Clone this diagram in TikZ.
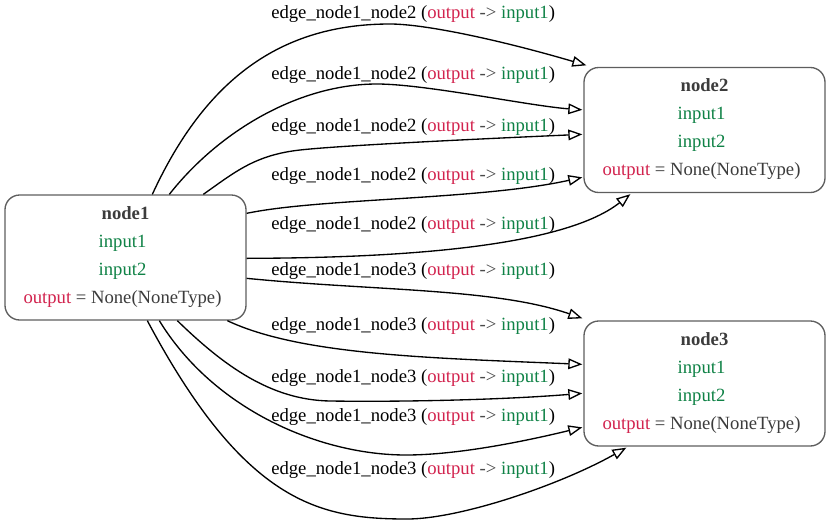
\documentclass[tikz,border=0pt]{standalone}
\usepackage{fontspec}
\setmainfont{Liberation Serif}
\usetikzlibrary{calc,arrows.meta}

\definecolor{boxgray}{HTML}{5E5E5E}
\definecolor{txtgray}{HTML}{3C3C3C}
\definecolor{portgreen}{HTML}{0F8246}
\definecolor{outred}{HTML}{D2234E}
\definecolor{arrgray}{HTML}{4A4A4A}

% body text size used throughout
\newcommand{\bodysize}{\fontsize{14}{16}\selectfont}
% label text of a connector from node1
\newcommand{\edgelab}[1]{edge\_node1\_#1 (\textcolor{outred}{output} \textcolor{arrgray}{->} \textcolor{portgreen}{input1})}

\tikzset{
  box/.style={draw=boxgray, line width=1pt, rounded corners=11pt, fill=white,
    minimum width=180.75pt, minimum height=93.75pt, inner sep=0pt},
  title/.style={anchor=base, font=\bodysize\bfseries, text=txtgray, inner sep=0pt},
  port/.style={anchor=base, font=\bodysize, text=portgreen, inner sep=0pt},
  outrow/.style={anchor=base, font=\bodysize, text=txtgray, inner sep=0pt},
  elabel/.style={anchor=base west, font=\bodysize, inner sep=0pt},
  link/.style={draw=black, line width=1pt, -{Triangle[open, length=10.5pt, width=8pt]}},
}

\begin{document}
\begin{tikzpicture}[x=0.75pt, y=-0.75pt]
\useasboundingbox (0,0) rectangle (831,525);

% boxes
\node[box] (n1) at (125.5,257.5) {};
\node[box] (n2) at (704.5,130) {};
\node[box] (n3) at (704.5,383.5) {};

% box contents
\node[title]  (n1t) at (125.5,219) {node1};
\node[port]   (n1a) at (122.5,247) {input1};
\node[port]   (n1b) at (122.5,275) {input2};
\node[outrow] (n1o) at (122.5,303) {\textcolor{outred}{output} = None(NoneType)};

\node[title]  (n2t) at (704.5,91.5) {node2};
\node[port]   (n2a) at (701.5,119.5) {input1};
\node[port]   (n2b) at (701.5,147.5) {input2};
\node[outrow] (n2o) at (701.5,175.5) {\textcolor{outred}{output} = None(NoneType)};

\node[title]  (n3t) at (704.5,345) {node3};
\node[port]   (n3a) at (701.5,373) {input1};
\node[port]   (n3b) at (701.5,401) {input2};
\node[outrow] (n3o) at (701.5,429) {\textcolor{outred}{output} = None(NoneType)};

% connectors node1 -> node2
\draw[link] ($(n1.north west)+(148,0)$) .. controls (205,80) and (280,24) .. (390,24)
  .. controls (425,24) and (500,40) .. ($(n2.north west)+(3,-1.5)$);
\draw[link] ($(n1.north west)+(165,0)$) .. controls (220,130) and (300,84) .. (377,84)
  .. controls (425,84) and (530,106) .. ($(n2.north west)+(-1,43)$);
\draw[link] ($(n1.north west)+(199,0)$) .. controls (235,172) and (255,155) .. (300,150)
  .. controls (345,145) and (500,138) .. ($(n2.north west)+(-1,67.5)$);
\draw[link] ($(n1.north east)+(0,19)$) .. controls (320,198) and (480,200) .. ($(n2.north west)+(-1,110.5)$);
\draw[link] ($(n1.north east)+(0,64)$) .. controls (380,258) and (560,250) .. ($(n2.south west)+(47,1)$);

% connectors node1 -> node3
\draw[link] ($(n1.north east)+(0,84)$) .. controls (375,291) and (495,288) .. ($(n3.north west)+(-1,-2)$);
\draw[link] ($(n1.south west)+(223,0)$) .. controls (300,355) and (430,358) .. ($(n3.north west)+(-1,44)$);
\draw[link] ($(n1.south west)+(173,0)$) .. controls (223,365) and (270,400) .. (330,401)
  .. controls (400,402) and (500,400) .. ($(n3.north west)+(-1,73)$);
\draw[link] ($(n1.south west)+(155,0)$) .. controls (214,410) and (320,455) .. (406,455)
  .. controls (460,455) and (530,440) .. ($(n3.north west)+(-1,107)$);
\draw[link] ($(n1.south west)+(143,0)$) .. controls (245,504) and (320,519) .. (407,519)
  .. controls (460,519) and (560,485) .. ($(n3.south west)+(43,1)$);

% connector labels
\node[elabel] (l1)  at (271,18.5)  {\edgelab{node2}};
\node[elabel] (l2)  at (271,79)    {\edgelab{node2}};
\node[elabel] (l3)  at (271,131)   {\edgelab{node2}};
\node[elabel] (l4)  at (271,180)   {\edgelab{node2}};
\node[elabel] (l5)  at (271,229.5) {\edgelab{node2}};
\node[elabel] (l6)  at (271,275)   {\edgelab{node3}};
\node[elabel] (l7)  at (271,330)   {\edgelab{node3}};
\node[elabel] (l8)  at (271,382)   {\edgelab{node3}};
\node[elabel] (l9)  at (271,421)   {\edgelab{node3}};
\node[elabel] (l10) at (271,474.5) {\edgelab{node3}};
\end{tikzpicture}
\end{document}
